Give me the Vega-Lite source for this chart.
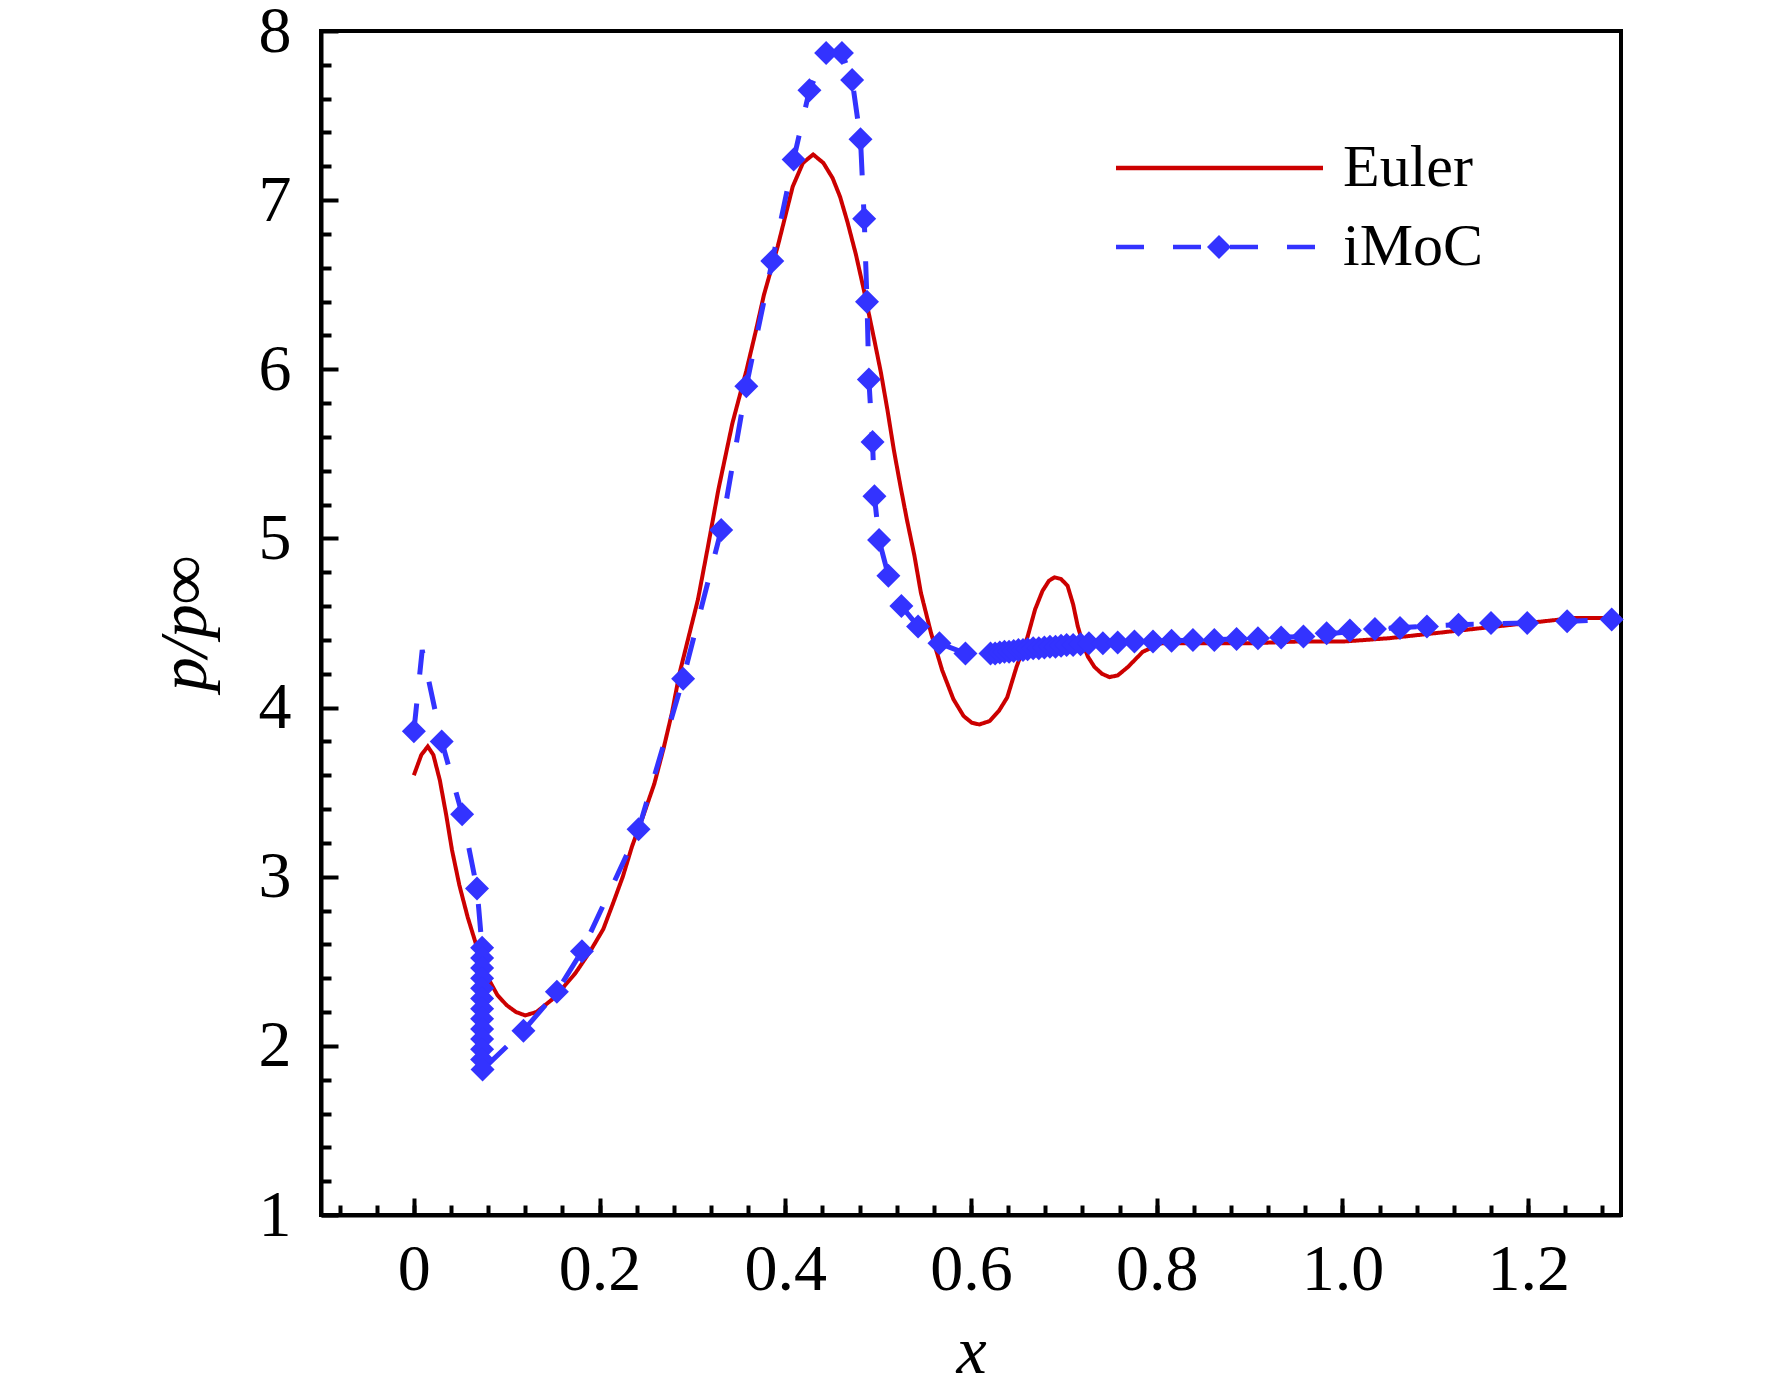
{
  "$schema": "https://vega.github.io/schema/vega-lite/v6.json",
  "width": 1300,
  "height": 1184,
  "autosize": {"type": "none"},
  "padding": {"left": 321, "top": 31, "right": 151, "bottom": 177},
  "background": "white",
  "datasets": {
    "lines": [
      {"series": "Euler", "x": 0.000, "y": 3.60}, {"series": "Euler", "x": 0.008, "y": 3.72}, {"series": "Euler", "x": 0.015, "y": 3.77},
      {"series": "Euler", "x": 0.021, "y": 3.72}, {"series": "Euler", "x": 0.028, "y": 3.57}, {"series": "Euler", "x": 0.035, "y": 3.36},
      {"series": "Euler", "x": 0.041, "y": 3.16}, {"series": "Euler", "x": 0.049, "y": 2.95}, {"series": "Euler", "x": 0.058, "y": 2.76},
      {"series": "Euler", "x": 0.067, "y": 2.60}, {"series": "Euler", "x": 0.075, "y": 2.48}, {"series": "Euler", "x": 0.082, "y": 2.38},
      {"series": "Euler", "x": 0.090, "y": 2.30}, {"series": "Euler", "x": 0.100, "y": 2.24}, {"series": "Euler", "x": 0.110, "y": 2.20},
      {"series": "Euler", "x": 0.120, "y": 2.18}, {"series": "Euler", "x": 0.132, "y": 2.20}, {"series": "Euler", "x": 0.148, "y": 2.27},
      {"series": "Euler", "x": 0.160, "y": 2.34}, {"series": "Euler", "x": 0.174, "y": 2.43}, {"series": "Euler", "x": 0.190, "y": 2.56},
      {"series": "Euler", "x": 0.204, "y": 2.69}, {"series": "Euler", "x": 0.215, "y": 2.85}, {"series": "Euler", "x": 0.225, "y": 3.00},
      {"series": "Euler", "x": 0.235, "y": 3.18}, {"series": "Euler", "x": 0.247, "y": 3.36}, {"series": "Euler", "x": 0.259, "y": 3.55},
      {"series": "Euler", "x": 0.269, "y": 3.76}, {"series": "Euler", "x": 0.278, "y": 3.97}, {"series": "Euler", "x": 0.286, "y": 4.20},
      {"series": "Euler", "x": 0.296, "y": 4.42}, {"series": "Euler", "x": 0.306, "y": 4.64}, {"series": "Euler", "x": 0.317, "y": 4.96},
      {"series": "Euler", "x": 0.328, "y": 5.29}, {"series": "Euler", "x": 0.343, "y": 5.68}, {"series": "Euler", "x": 0.358, "y": 5.99},
      {"series": "Euler", "x": 0.368, "y": 6.22}, {"series": "Euler", "x": 0.377, "y": 6.44}, {"series": "Euler", "x": 0.392, "y": 6.73},
      {"series": "Euler", "x": 0.408, "y": 7.08}, {"series": "Euler", "x": 0.419, "y": 7.22}, {"series": "Euler", "x": 0.430, "y": 7.27},
      {"series": "Euler", "x": 0.441, "y": 7.22}, {"series": "Euler", "x": 0.451, "y": 7.13}, {"series": "Euler", "x": 0.459, "y": 7.02},
      {"series": "Euler", "x": 0.467, "y": 6.87}, {"series": "Euler", "x": 0.476, "y": 6.68}, {"series": "Euler", "x": 0.485, "y": 6.46},
      {"series": "Euler", "x": 0.496, "y": 6.17}, {"series": "Euler", "x": 0.503, "y": 5.98}, {"series": "Euler", "x": 0.510, "y": 5.76},
      {"series": "Euler", "x": 0.517, "y": 5.52}, {"series": "Euler", "x": 0.524, "y": 5.31}, {"series": "Euler", "x": 0.531, "y": 5.11},
      {"series": "Euler", "x": 0.539, "y": 4.90}, {"series": "Euler", "x": 0.546, "y": 4.68}, {"series": "Euler", "x": 0.557, "y": 4.44},
      {"series": "Euler", "x": 0.569, "y": 4.22}, {"series": "Euler", "x": 0.581, "y": 4.05}, {"series": "Euler", "x": 0.592, "y": 3.95},
      {"series": "Euler", "x": 0.601, "y": 3.91}, {"series": "Euler", "x": 0.609, "y": 3.90}, {"series": "Euler", "x": 0.620, "y": 3.92},
      {"series": "Euler", "x": 0.630, "y": 3.98}, {"series": "Euler", "x": 0.639, "y": 4.06}, {"series": "Euler", "x": 0.649, "y": 4.24},
      {"series": "Euler", "x": 0.661, "y": 4.42}, {"series": "Euler", "x": 0.669, "y": 4.58}, {"series": "Euler", "x": 0.677, "y": 4.69},
      {"series": "Euler", "x": 0.684, "y": 4.75}, {"series": "Euler", "x": 0.690, "y": 4.77}, {"series": "Euler", "x": 0.697, "y": 4.76},
      {"series": "Euler", "x": 0.704, "y": 4.72}, {"series": "Euler", "x": 0.710, "y": 4.61}, {"series": "Euler", "x": 0.715, "y": 4.48},
      {"series": "Euler", "x": 0.721, "y": 4.37}, {"series": "Euler", "x": 0.726, "y": 4.30}, {"series": "Euler", "x": 0.733, "y": 4.24},
      {"series": "Euler", "x": 0.741, "y": 4.20}, {"series": "Euler", "x": 0.749, "y": 4.18}, {"series": "Euler", "x": 0.758, "y": 4.19},
      {"series": "Euler", "x": 0.769, "y": 4.24}, {"series": "Euler", "x": 0.785, "y": 4.33}, {"series": "Euler", "x": 0.805, "y": 4.38},
      {"series": "Euler", "x": 0.850, "y": 4.38}, {"series": "Euler", "x": 0.900, "y": 4.38}, {"series": "Euler", "x": 0.950, "y": 4.39},
      {"series": "Euler", "x": 1.000, "y": 4.39}, {"series": "Euler", "x": 1.050, "y": 4.41}, {"series": "Euler", "x": 1.100, "y": 4.44},
      {"series": "Euler", "x": 1.150, "y": 4.47}, {"series": "Euler", "x": 1.200, "y": 4.50}, {"series": "Euler", "x": 1.250, "y": 4.53},
      {"series": "Euler", "x": 1.300, "y": 4.53},
      {"series": "iMoC", "x": 0.000, "y": 3.86}, {"series": "iMoC", "x": 0.009, "y": 4.34}, {"series": "iMoC", "x": 0.030, "y": 3.80},
      {"series": "iMoC", "x": 0.052, "y": 3.37}, {"series": "iMoC", "x": 0.068, "y": 2.93}, {"series": "iMoC", "x": 0.0735, "y": 2.58},
      {"series": "iMoC", "x": 0.0740, "y": 1.86}, {"series": "iMoC", "x": 0.118, "y": 2.09}, {"series": "iMoC", "x": 0.154, "y": 2.32},
      {"series": "iMoC", "x": 0.181, "y": 2.56}, {"series": "iMoC", "x": 0.242, "y": 3.28}, {"series": "iMoC", "x": 0.290, "y": 4.17},
      {"series": "iMoC", "x": 0.331, "y": 5.05}, {"series": "iMoC", "x": 0.358, "y": 5.90}, {"series": "iMoC", "x": 0.386, "y": 6.64},
      {"series": "iMoC", "x": 0.409, "y": 7.24}, {"series": "iMoC", "x": 0.426, "y": 7.65}, {"series": "iMoC", "x": 0.444, "y": 7.87},
      {"series": "iMoC", "x": 0.461, "y": 7.87}, {"series": "iMoC", "x": 0.472, "y": 7.71}, {"series": "iMoC", "x": 0.481, "y": 7.36},
      {"series": "iMoC", "x": 0.485, "y": 6.89}, {"series": "iMoC", "x": 0.488, "y": 6.40}, {"series": "iMoC", "x": 0.490, "y": 5.94},
      {"series": "iMoC", "x": 0.494, "y": 5.57}, {"series": "iMoC", "x": 0.496, "y": 5.25}, {"series": "iMoC", "x": 0.501, "y": 4.99},
      {"series": "iMoC", "x": 0.511, "y": 4.78}, {"series": "iMoC", "x": 0.525, "y": 4.60}, {"series": "iMoC", "x": 0.543, "y": 4.48},
      {"series": "iMoC", "x": 0.566, "y": 4.38}, {"series": "iMoC", "x": 0.594, "y": 4.32}, {"series": "iMoC", "x": 0.621, "y": 4.32},
      {"series": "iMoC", "x": 0.718, "y": 4.375}, {"series": "iMoC", "x": 0.758, "y": 4.385}, {"series": "iMoC", "x": 0.816, "y": 4.395},
      {"series": "iMoC", "x": 0.886, "y": 4.405}, {"series": "iMoC", "x": 0.958, "y": 4.42}, {"series": "iMoC", "x": 1.035, "y": 4.465},
      {"series": "iMoC", "x": 1.125, "y": 4.49}, {"series": "iMoC", "x": 1.199, "y": 4.50}, {"series": "iMoC", "x": 1.290, "y": 4.52}
    ],
    "markers": [
      {"series": "iMoC", "x": 0.000, "y": 3.86}, {"series": "iMoC", "x": 0.030, "y": 3.80}, {"series": "iMoC", "x": 0.052, "y": 3.37},
      {"series": "iMoC", "x": 0.068, "y": 2.93},
      {"series": "iMoC", "x": 0.0735, "y": 2.58}, {"series": "iMoC", "x": 0.0735, "y": 2.52}, {"series": "iMoC", "x": 0.0735, "y": 2.46},
      {"series": "iMoC", "x": 0.0735, "y": 2.40}, {"series": "iMoC", "x": 0.0735, "y": 2.34}, {"series": "iMoC", "x": 0.0735, "y": 2.28},
      {"series": "iMoC", "x": 0.0735, "y": 2.22}, {"series": "iMoC", "x": 0.0735, "y": 2.16}, {"series": "iMoC", "x": 0.0735, "y": 2.10},
      {"series": "iMoC", "x": 0.0735, "y": 2.04}, {"series": "iMoC", "x": 0.0735, "y": 1.98}, {"series": "iMoC", "x": 0.0735, "y": 1.92},
      {"series": "iMoC", "x": 0.0740, "y": 1.86},
      {"series": "iMoC", "x": 0.118, "y": 2.09}, {"series": "iMoC", "x": 0.154, "y": 2.32}, {"series": "iMoC", "x": 0.181, "y": 2.56},
      {"series": "iMoC", "x": 0.242, "y": 3.28}, {"series": "iMoC", "x": 0.290, "y": 4.17}, {"series": "iMoC", "x": 0.331, "y": 5.05},
      {"series": "iMoC", "x": 0.358, "y": 5.90}, {"series": "iMoC", "x": 0.386, "y": 6.64}, {"series": "iMoC", "x": 0.409, "y": 7.24},
      {"series": "iMoC", "x": 0.426, "y": 7.65}, {"series": "iMoC", "x": 0.444, "y": 7.87}, {"series": "iMoC", "x": 0.461, "y": 7.87},
      {"series": "iMoC", "x": 0.472, "y": 7.71}, {"series": "iMoC", "x": 0.481, "y": 7.36}, {"series": "iMoC", "x": 0.485, "y": 6.89},
      {"series": "iMoC", "x": 0.488, "y": 6.40}, {"series": "iMoC", "x": 0.490, "y": 5.94}, {"series": "iMoC", "x": 0.494, "y": 5.57},
      {"series": "iMoC", "x": 0.496, "y": 5.25}, {"series": "iMoC", "x": 0.501, "y": 4.99}, {"series": "iMoC", "x": 0.511, "y": 4.78},
      {"series": "iMoC", "x": 0.525, "y": 4.60}, {"series": "iMoC", "x": 0.543, "y": 4.48}, {"series": "iMoC", "x": 0.566, "y": 4.38},
      {"series": "iMoC", "x": 0.594, "y": 4.32},
      {"series": "iMoC", "x": 0.621, "y": 4.32}, {"series": "iMoC", "x": 0.626, "y": 4.32}, {"series": "iMoC", "x": 0.631, "y": 4.325},
      {"series": "iMoC", "x": 0.636, "y": 4.33}, {"series": "iMoC", "x": 0.641, "y": 4.33}, {"series": "iMoC", "x": 0.646, "y": 4.335},
      {"series": "iMoC", "x": 0.651, "y": 4.34}, {"series": "iMoC", "x": 0.656, "y": 4.34}, {"series": "iMoC", "x": 0.661, "y": 4.345},
      {"series": "iMoC", "x": 0.667, "y": 4.35}, {"series": "iMoC", "x": 0.673, "y": 4.35}, {"series": "iMoC", "x": 0.679, "y": 4.355},
      {"series": "iMoC", "x": 0.685, "y": 4.36}, {"series": "iMoC", "x": 0.691, "y": 4.36}, {"series": "iMoC", "x": 0.697, "y": 4.365},
      {"series": "iMoC", "x": 0.703, "y": 4.37}, {"series": "iMoC", "x": 0.710, "y": 4.37}, {"series": "iMoC", "x": 0.718, "y": 4.375},
      {"series": "iMoC", "x": 0.727, "y": 4.38}, {"series": "iMoC", "x": 0.742, "y": 4.38}, {"series": "iMoC", "x": 0.758, "y": 4.385},
      {"series": "iMoC", "x": 0.776, "y": 4.39}, {"series": "iMoC", "x": 0.796, "y": 4.39}, {"series": "iMoC", "x": 0.816, "y": 4.395},
      {"series": "iMoC", "x": 0.839, "y": 4.40}, {"series": "iMoC", "x": 0.862, "y": 4.40}, {"series": "iMoC", "x": 0.886, "y": 4.405},
      {"series": "iMoC", "x": 0.909, "y": 4.41}, {"series": "iMoC", "x": 0.934, "y": 4.415}, {"series": "iMoC", "x": 0.958, "y": 4.42},
      {"series": "iMoC", "x": 0.983, "y": 4.44}, {"series": "iMoC", "x": 1.008, "y": 4.455}, {"series": "iMoC", "x": 1.035, "y": 4.465},
      {"series": "iMoC", "x": 1.062, "y": 4.47}, {"series": "iMoC", "x": 1.091, "y": 4.48}, {"series": "iMoC", "x": 1.125, "y": 4.49},
      {"series": "iMoC", "x": 1.160, "y": 4.50}, {"series": "iMoC", "x": 1.199, "y": 4.50}, {"series": "iMoC", "x": 1.242, "y": 4.51},
      {"series": "iMoC", "x": 1.290, "y": 4.52}
    ]
  },
  "layer": [
    {
      "data": {"name": "lines"},
      "mark": {"type": "line", "clip": true},
      "encoding": {
        "x": {
          "field": "x",
          "type": "quantitative",
          "scale": {"domain": [-0.1, 1.3], "nice": false, "zero": false},
          "axis": {
            "orient": "bottom",
            "values": [0, 0.2, 0.4, 0.6, 0.8, 1.0, 1.2],
            "labelExpr": "datum.value == 0 ? '0' : format(datum.value, '.1f')",
            "tickSize": -17,
            "labelPadding": 39,
            "title": "x",
            "titleFontStyle": "italic",
            "titlePadding": 16
          }
        },
        "y": {
          "field": "y",
          "type": "quantitative",
          "scale": {"domain": [1, 8], "nice": false, "zero": false},
          "axis": {
            "orient": "left",
            "values": [1, 2, 3, 4, 5, 6, 7, 8],
            "tickSize": -17,
            "labelPadding": 47,
            "title": "p/p∞",
            "titleFontStyle": "italic",
            "titlePadding": 39
          }
        },
        "color": {
          "field": "series",
          "type": "nominal",
          "scale": {"domain": ["Euler", "iMoC"], "range": ["#CC0000", "#3333FF"]},
          "legend": {
            "title": null,
            "orient": "none",
            "legendX": 868.5,
            "legendY": 107,
            "symbolType": "M-10,0H10",
            "symbolSize": 428.5,
            "symbolStrokeWidth": 4.5,
            "labelFontSize": 60,
            "labelOffset": 93.5,
            "rowPadding": 19,
            "padding": 0
          }
        },
        "strokeDash": {
          "field": "series",
          "type": "nominal",
          "scale": {"domain": ["Euler", "iMoC"], "range": [[1, 0], [28, 29]]}
        },
        "strokeWidth": {
          "condition": {"test": "datum.series == 'Euler'", "value": 4},
          "value": 5
        }
      }
    },
    {
      "data": {"name": "markers"},
      "mark": {"type": "point", "filled": true, "opacity": 1, "color": "#3333FF", "size": 576},
      "encoding": {
        "x": {
          "field": "x",
          "type": "quantitative",
          "axis": {
            "orient": "bottom",
            "values": [-0.08, -0.04, 0, 0.04, 0.08, 0.12, 0.16, 0.2, 0.24, 0.28, 0.32, 0.36, 0.4, 0.44, 0.48, 0.52, 0.56, 0.6, 0.64, 0.68, 0.72, 0.76, 0.8, 0.84, 0.88, 0.92, 0.96, 1.0, 1.04, 1.08, 1.12, 1.16, 1.2, 1.24, 1.28],
            "labels": false,
            "domain": false,
            "tickSize": -10,
            "title": null
          }
        },
        "y": {
          "field": "y",
          "type": "quantitative",
          "axis": {
            "orient": "left",
            "values": [1.2, 1.4, 1.6, 1.8, 2.2, 2.4, 2.6, 2.8, 3.2, 3.4, 3.6, 3.8, 4.2, 4.4, 4.6, 4.8, 5.2, 5.4, 5.6, 5.8, 6.2, 6.4, 6.6, 6.8, 7.2, 7.4, 7.6, 7.8],
            "labels": false,
            "domain": false,
            "tickSize": -10,
            "title": null
          }
        },
        "shape": {
          "field": "series",
          "type": "nominal",
          "scale": {"domain": ["iMoC"], "range": ["diamond"]},
          "legend": {
            "title": null,
            "orient": "none",
            "legendX": 886,
            "legendY": 204,
            "symbolSize": 576,
            "symbolStrokeWidth": 0,
            "symbolFillColor": "#3333FF",
            "labelFontSize": 10,
            "labelExpr": "''",
            "padding": 0
          }
        }
      }
    }
  ],
  "resolve": {"axis": {"x": "independent", "y": "independent"}},
  "config": {
    "view": {"stroke": "black", "strokeWidth": 4},
    "axis": {
      "grid": false,
      "labelFont": "Liberation Serif",
      "labelFontSize": 66,
      "labelColor": "black",
      "labelFlush": false,
      "labelOverlap": false,
      "labelBound": false,
      "titleFont": "Liberation Serif",
      "titleFontSize": 68,
      "titleFontWeight": "normal",
      "titleColor": "black",
      "domainColor": "black",
      "domainWidth": 4,
      "tickColor": "black",
      "tickWidth": 4
    },
    "legend": {
      "labelFont": "Liberation Serif",
      "labelColor": "black"
    }
  }
}
